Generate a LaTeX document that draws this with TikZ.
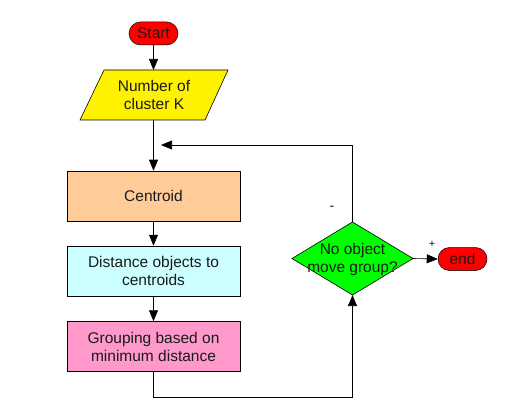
\documentclass[tikz,border=0pt]{standalone}
\usepackage{fontspec}
\setmainfont{Liberation Sans}
\usetikzlibrary{arrows.meta,shapes.geometric}
\definecolor{peach}{HTML}{FFCC99}
\definecolor{lcyan}{HTML}{CCFFFF}
\definecolor{lpink}{HTML}{FF99CC}
\definecolor{txt}{HTML}{1A1A1A}
\tikzset{
  lbl/.style={font=\fontsize{15.5}{18}\selectfont, text=txt, align=center},
  term/.style={lbl, draw=black, line width=0.5pt, fill=red, rounded corners=11.5pt, minimum width=49pt, minimum height=23pt, inner sep=0pt},
  procbox/.style={lbl, draw=black, line width=0.5pt, minimum width=173pt, minimum height=50pt, inner sep=0pt},
  arr/.style={draw=black, line width=0.6pt, -{Triangle[length=11pt,width=9pt]}},
  ln/.style={draw=black, line width=0.6pt},
  sign/.style={font=\fontsize{14}{14}\selectfont, text=txt}
}
\begin{document}
\begin{tikzpicture}[x=1pt,y=-1pt]
\useasboundingbox[fill=white] (0,0) rectangle (514,409);
\node[term] (start) at (153.5,33.5) {Start};
\draw[ln, fill=yellow] (104,70) -- (228,70) -- (205,120) -- (80,120) -- cycle;
\node[lbl] (num) at (154,95) {Number of\\cluster K};
\coordinate (numtop) at (153.5,70);
\coordinate (numbot) at (153.5,120);
\node[procbox, fill=peach] (cen) at (153.5,196) {Centroid};
\node[procbox, fill=lcyan] (dist) at (153.5,271) {Distance objects to\\centroids};
\node[procbox, fill=lpink] (grp) at (153.5,346.5) {Grouping based on\\minimum distance};
\coordinate (decN) at (352.5,222);
\coordinate (decS) at (352.5,295);
\coordinate (decW) at (292,258.5);
\coordinate (decE) at (413,258.5);
\draw[ln, fill=green] (decW) -- (decN) -- (decE) -- (decS) -- cycle;
\node[lbl] (dec) at (352.5,259) {No object\\move group?};
\node[term] (endn) at (462.5,259) {end};
\coordinate (merge) at (161,145);
\coordinate (corner) at (352.5,145);
\draw[arr] (start.south) -- (numtop);
\draw[arr] (numbot) -- (cen.north);
\draw[arr] (cen.south) -- (dist.north);
\draw[arr] (dist.south) -- (grp.north);
\draw[arr] (grp.south) -- ++(0,26) -| (decS);
\draw[ln] (decN) -- (corner);
\draw[arr] (corner) -- (merge);
\draw[arr] (decE) -- (endn.west);
\node[sign] (minus) at (332,208) {-};
\node[sign, font=\fontsize{11}{11}\selectfont] (plus) at (432,244) {+};
\end{tikzpicture}
\end{document}
